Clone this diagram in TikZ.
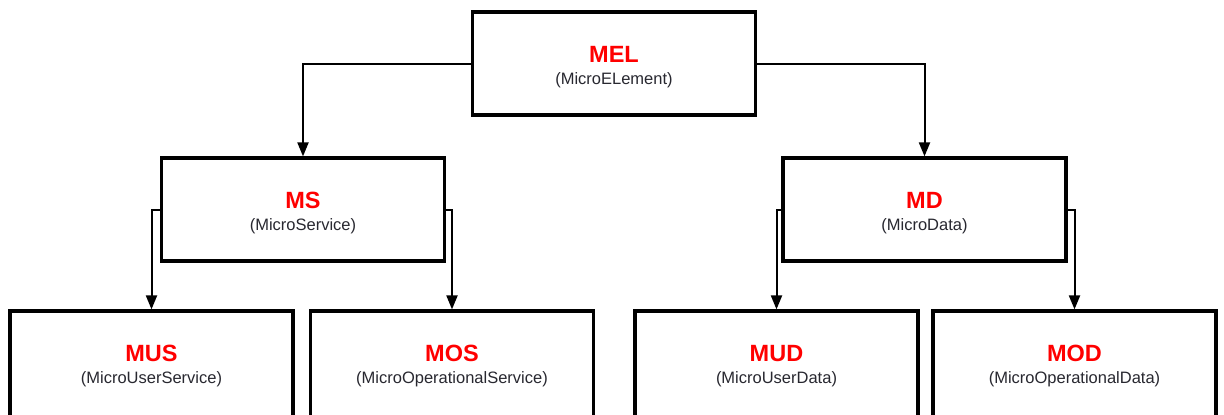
\documentclass[tikz,border=0pt]{standalone}
\usepackage{fontspec}
\setmainfont{Liberation Sans}
\usetikzlibrary{arrows.meta}
\definecolor{elemred}{RGB}{255, 0, 0}
\definecolor{subgray}{RGB}{40, 40, 48}
% title in red over the long name; optional arg pads the last line's depth
\newcommand{\elemtext}[3][3.5pt]{\rule{0pt}{24pt}{\color{elemred}\fontsize{23.5}{26}\selectfont\bfseries #2}\\#3\rule[-#1]{0pt}{#1}}
\tikzset{
  elem/.style={draw=black, line width=3.2pt, fill=white, inner sep=0pt,
               minimum width=283pt, minimum height=103pt, align=center,
               text=subgray, font=\fontsize{16.5}{22}\selectfont},
  leaf/.style={elem, minimum height=110pt},
  link/.style={-{Triangle[length=14pt, width=11pt]}, line width=2pt},
}

\begin{document}
\begin{tikzpicture}[x=1pt, y=-1pt]
  \useasboundingbox (0, 0) rectangle (1224, 415);
  \clip (0, 0) rectangle (1224, 415);
  \fill[white] (0, 0) rectangle (1224, 415);
  % root
  \node[elem] (mel) at (614, 63.5) {\elemtext{MEL}{(MicroELement)}};
  % second level
  \node[elem] (ms) at (303, 209.5) {\elemtext{MS}{(MicroService)}};
  \node[elem] (md) at (924.5, 209.5) {\elemtext{MD}{(MicroData)}};
  % leaves, cut off by the page bottom
  \node[leaf] (mus) at (151.5, 366) {\elemtext[10.5pt]{MUS}{(MicroUserService)}};
  \node[leaf] (mos) at (452, 366) {\elemtext[10.5pt]{MOS}{(MicroOperationalService)}};
  \node[leaf] (mud) at (776.5, 366) {\elemtext[10.5pt]{MUD}{(MicroUserData)}};
  \node[leaf] (mod) at (1074.5, 366) {\elemtext[10.5pt]{MOD}{(MicroOperationalData)}};
  % connectors
  \draw[link] (mel.west) -| (ms.north);
  \draw[link] (mel.east) -| (md.north);
  \draw[link] (ms.west) -| (mus.north);
  \draw[link] (ms.east) -| (mos.north);
  \draw[link] (md.west) -| (mud.north);
  \draw[link] (md.east) -| (mod.north);
\end{tikzpicture}
\end{document}
